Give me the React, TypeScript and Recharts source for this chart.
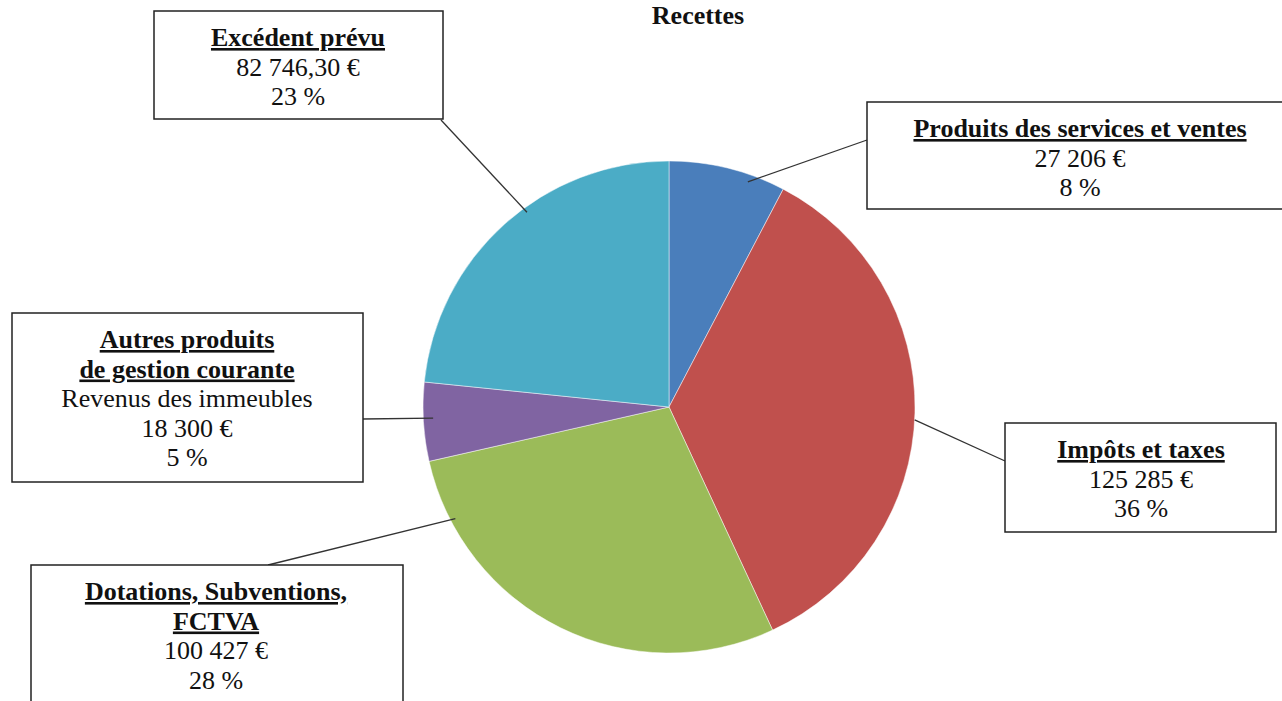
import React from "react";
import { Cell, Pie, PieChart } from "recharts";

const categories = [
  "Produits des services et ventes",
  "Impôts et taxes",
  "Dotations, Subventions, FCTVA",
  "Autres produits de gestion courante",
  "Excédent prévu",
];
const amounts = [27206, 125285, 100427, 18300, 82746.3];
const amountLabels = ["27 206 €", "125 285 €", "100 427 €", "18 300 €", "82 746,30 €"];
const percentLabels = ["8 %", "36 %", "28 %", "5 %", "23 %"];
const headingLines = [
  ["Produits des services et ventes"],
  ["Impôts et taxes"],
  ["Dotations, Subventions,", "FCTVA"],
  ["Autres produits", "de gestion courante"],
  ["Excédent prévu"],
];
const extraLines = [[], [], [], ["Revenus des immeubles"], []];

const COLORS = ["#4a7ebb", "#c0504d", "#9bbb59", "#8064a2", "#4bacc6"];

// label boxes (layout only): rect, text centre, leader end on box, anchor angle on pie
const BOXES = [
  { x: 867, y: 102, w: 430, h: 107, tx: 1080, end: [867, 140], angle: 19.3, k: 0.97 },
  { x: 1005, y: 423, w: 271, h: 109, tx: 1141, end: [1005, 461], angle: 93, k: 1.0 },
  { x: 31, y: 565, w: 372, h: 160, tx: 216, end: [268, 565], angle: 242.4, k: 0.98 },
  { x: 12, y: 313, w: 351, h: 169, tx: 187, end: [363, 419], angle: 267.3, k: 0.96 },
  { x: 154, y: 11, w: 289, h: 108, tx: 298, end: [441, 120], angle: 323.9, k: 0.98 },
];

const FONT = "'Liberation Serif', 'Times New Roman', serif";
const LINE = 29.5;

const data = categories.map((name, i) => ({ name, value: amounts[i] }));

function renderLabel(props: any) {
  const { cx, cy, outerRadius, index } = props;
  const b = BOXES[index];
  const rad = (b.angle * Math.PI) / 180;
  const sx = cx + outerRadius * b.k * Math.sin(rad);
  const sy = cy - outerRadius * b.k * Math.cos(rad);
  const lines = [
    ...headingLines[index].map((t) => ({ t, bold: true })),
    ...extraLines[index].map((t) => ({ t, bold: false })),
    { t: amountLabels[index], bold: false },
    { t: percentLabels[index], bold: false },
  ];
  return (
    <g key={`lbl-${index}`}>
      <line x1={sx} y1={sy} x2={b.end[0]} y2={b.end[1]} stroke="#333" strokeWidth={1.3} />
      <rect x={b.x} y={b.y} width={b.w} height={b.h} fill="#fff" stroke="#222" strokeWidth={1.5} />
      {lines.map((l, j) => (
        <text
          key={j}
          x={b.tx}
          y={b.y + 35 + j * LINE}
          textAnchor="middle"
          fontFamily={FONT}
          fontSize={26}
          fontWeight={l.bold ? 700 : 400}
          fill="#111"
          style={l.bold ? { textDecoration: "underline" } : undefined}
        >
          {l.t}
        </text>
      ))}
    </g>
  );
}

export default function App() {
  return (
    <div style={{ position: "absolute", left: 0, top: 0, width: 1282, height: 701, background: "#fff", overflow: "hidden" }}>
      <PieChart width={1282} height={701} margin={{ top: 0, right: 0, bottom: 0, left: 0 }}>
        <Pie
          data={data}
          dataKey="value"
          nameKey="name"
          cx={669}
          cy={407}
          outerRadius={246}
          startAngle={90}
          endAngle={-270}
          label={renderLabel}
          labelLine={false}
          isAnimationActive={false}
        >
          {data.map((d, i) => (
            <Cell key={d.name} fill={COLORS[i]} stroke="#ffffff" strokeWidth={0.8} strokeOpacity={0.6} />
          ))}
        </Pie>
      </PieChart>
      <svg width={1282} height={50} style={{ position: "absolute", left: 0, top: 0, pointerEvents: "none" }}>
        <text x={698} y={24} textAnchor="middle" fontFamily={FONT} fontSize={26} fontWeight={700} fill="#111">
          Recettes
        </text>
      </svg>
    </div>
  );
}
